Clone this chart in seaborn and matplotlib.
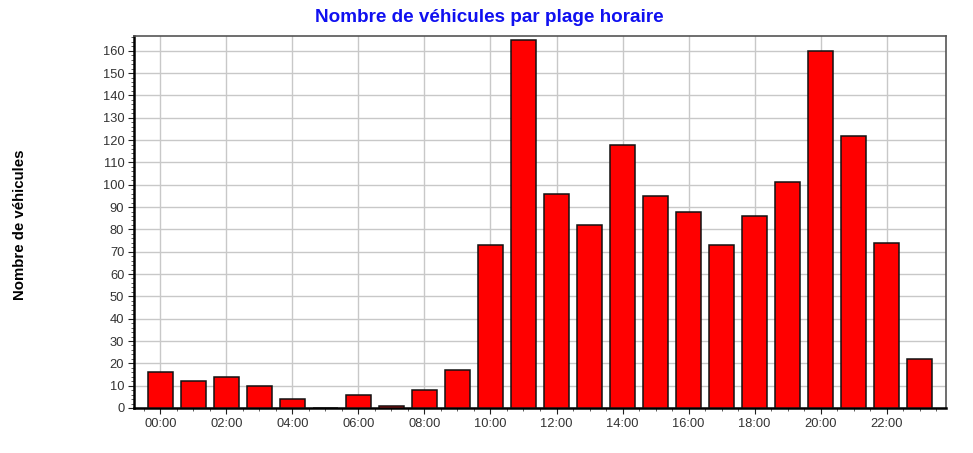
import matplotlib
matplotlib.use("Agg")
import matplotlib.pyplot as plt
import seaborn as sns
import pandas as pd
import numpy as np
from matplotlib.ticker import MultipleLocator

hours = [f"{h:02d}:00" for h in range(24)]
vehicles = [16, 12, 14, 10, 4, 0, 6, 1, 8, 17, 73, 165, 96, 82, 118, 95, 88, 73, 86, 101, 160, 122, 74, 22]
tick_labels = [f"{h:02d}:00" for h in range(0, 24, 2)]

sns.set_theme(style="white")
plt.rcParams['font.family'] = ['Liberation Sans', 'DejaVu Sans']

df = pd.DataFrame({"heure": hours, "vehicules": vehicles})

fig = plt.figure(figsize=(9.73, 4.53), dpi=100)
ax = fig.add_axes([134/973, 45/453, (946-134)/973, (408-36)/453])

sns.barplot(data=df, x="heure", y="vehicules", color="#ff0000", saturation=1,
            edgecolor="#111111", linewidth=1.1, width=0.75, ax=ax, zorder=3)

ax.set_xlim(-0.8, 23.8)
ax.set_ylim(0, 166.6)
ax.set_xticks(range(0, 24, 2))
ax.set_xticklabels(tick_labels)
ax.xaxis.set_minor_locator(MultipleLocator(0.5))
ax.yaxis.set_major_locator(MultipleLocator(10))
ax.yaxis.set_minor_locator(MultipleLocator(2))
ax.tick_params(axis="both", which="major", labelsize=9.3, colors="#222222", length=4, width=0.8,
               bottom=True, left=True, direction="out", pad=3)
ax.tick_params(axis="both", which="minor", length=2, width=0.6, bottom=True, left=True, colors="#444444")
for lbl in ax.get_xticklabels() + ax.get_yticklabels():
    lbl.set_color("#333333")

ax.grid(True, which="major", color="#c8c8c8", linewidth=1.0, zorder=0)
ax.set_axisbelow(True)

for side in ["left", "bottom"]:
    ax.spines[side].set_color("#000000")
    ax.spines[side].set_linewidth(1.8)
for side in ["top", "right"]:
    ax.spines[side].set_color("#555555")
    ax.spines[side].set_linewidth(1.2)

ax.set_xlabel("")
ax.set_ylabel("")
fig.text(20/973, 1 - 225/453, "Nombre de véhicules", rotation=90, ha="center", va="center",
         fontsize=10.8, fontweight="bold", color="#000000")
fig.text(489/973, 1 - 18/453, "Nombre de véhicules par plage horaire", ha="center", va="center",
         fontsize=13.6, fontweight="bold", color="#1010f0")

fig.savefig("out.png", dpi=100)
